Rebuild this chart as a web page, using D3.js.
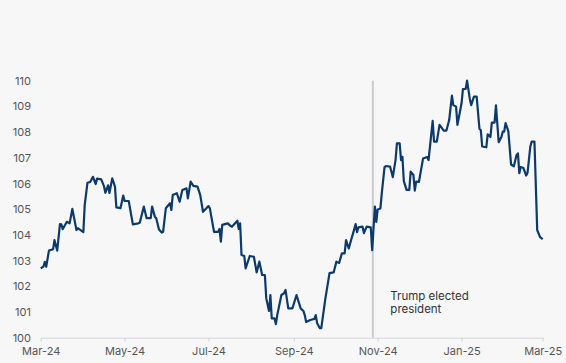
<!DOCTYPE html>
<html>
<head>
<meta charset="utf-8">
<script src="https://cdn.jsdelivr.net/npm/d3@7"></script>
<style>
  html, body { margin: 0; padding: 0; background: #f7f7f7; }
  svg { display: block; font-family: Inter, "Noto Sans", sans-serif; }
</style>
</head>
<body>
<div id="chart"></div>
<script>
// ---- data ----
const dates = [
"2024-03-01","2024-03-03","2024-03-04","2024-03-05","2024-03-07","2024-03-10","2024-03-11","2024-03-13","2024-03-15","2024-03-16",
"2024-03-17","2024-03-20","2024-03-22","2024-03-24","2024-03-27","2024-03-28","2024-04-01","2024-04-02","2024-04-04","2024-04-06",
"2024-04-08","2024-04-10","2024-04-11","2024-04-14","2024-04-16","2024-04-17","2024-04-19","2024-04-20","2024-04-22","2024-04-24",
"2024-04-25","2024-04-28","2024-04-30","2024-05-01","2024-05-04","2024-05-07","2024-05-11","2024-05-12","2024-05-15","2024-05-17",
"2024-05-20","2024-05-21","2024-05-23","2024-05-24","2024-05-26","2024-05-28","2024-05-29","2024-05-31","2024-06-03","2024-06-04",
"2024-06-05","2024-06-08","2024-06-10","2024-06-12","2024-06-15","2024-06-16","2024-06-18","2024-06-20","2024-06-23","2024-06-25",
"2024-06-27","2024-06-30","2024-07-01","2024-07-02","2024-07-05","2024-07-08","2024-07-09","2024-07-10","2024-07-11","2024-07-15",
"2024-07-17","2024-07-18","2024-07-22","2024-07-23","2024-07-24","2024-07-25","2024-07-27","2024-07-28","2024-07-31","2024-08-03",
"2024-08-05","2024-08-07","2024-08-09","2024-08-11","2024-08-12","2024-08-14","2024-08-15","2024-08-16","2024-08-18","2024-08-19",
"2024-08-20","2024-08-23","2024-08-25","2024-08-26","2024-08-28","2024-08-31","2024-09-03","2024-09-06","2024-09-08","2024-09-09",
"2024-09-10","2024-09-13","2024-09-16","2024-09-17","2024-09-18","2024-09-20","2024-09-21","2024-09-24","2024-09-27","2024-09-30",
"2024-10-02","2024-10-04","2024-10-06","2024-10-08","2024-10-09","2024-10-11","2024-10-13","2024-10-14","2024-10-16","2024-10-17",
"2024-10-18","2024-10-21","2024-10-22","2024-10-24","2024-10-27","2024-10-28","2024-10-30","2024-10-31","2024-11-01","2024-11-03",
"2024-11-04","2024-11-06","2024-11-07","2024-11-10","2024-11-12","2024-11-14","2024-11-15","2024-11-17","2024-11-18","2024-11-19",
"2024-11-20","2024-11-22","2024-11-24","2024-11-25","2024-11-27","2024-11-28","2024-11-29","2024-12-01","2024-12-04","2024-12-07",
"2024-12-08","2024-12-11","2024-12-12","2024-12-14","2024-12-16","2024-12-19","2024-12-21","2024-12-23","2024-12-25","2024-12-26",
"2024-12-28","2024-12-29","2025-01-01","2025-01-02","2025-01-04","2025-01-05","2025-01-07","2025-01-08","2025-01-10","2025-01-12",
"2025-01-14","2025-01-15","2025-01-16","2025-01-19","2025-01-20","2025-01-22","2025-01-23","2025-01-25","2025-01-26","2025-01-28",
"2025-01-30","2025-01-31","2025-02-01","2025-02-02","2025-02-04","2025-02-06","2025-02-08","2025-02-10","2025-02-11","2025-02-12",
"2025-02-13","2025-02-15","2025-02-17","2025-02-18","2025-02-20","2025-02-21","2025-02-23","2025-02-25","2025-02-27","2025-03-01"
];
const values = [
102.70,102.77,102.95,102.76,103.39,103.44,103.80,103.39,104.42,104.41,
104.22,104.51,104.45,105.01,104.19,104.26,104.11,105.16,106.03,106.06,
106.26,105.98,106.19,106.16,105.90,105.64,105.93,105.63,106.20,105.88,
105.07,105.04,105.53,105.32,105.32,104.41,104.45,104.47,105.10,104.65,
104.65,105.10,104.71,104.65,104.21,104.09,104.12,105.04,105.23,104.97,
105.55,105.62,105.29,105.75,105.81,105.42,106.07,105.91,105.88,105.55,
104.90,105.07,105.12,105.03,104.12,104.12,104.23,103.74,104.39,104.45,
104.35,104.32,104.55,104.23,104.45,103.22,103.18,102.70,103.18,103.15,
102.54,102.96,102.44,102.44,101.53,101.04,101.66,100.75,100.75,100.53,
100.88,101.66,101.73,101.86,101.14,101.14,101.66,101.14,101.04,100.88,
100.61,100.69,100.73,100.88,100.56,100.37,100.37,101.53,102.51,102.54,
102.96,102.91,103.28,103.28,103.80,103.47,103.86,104.04,104.42,104.11,
104.29,104.32,104.07,104.32,104.29,103.41,105.10,104.51,104.99,105.03,
105.62,106.64,106.68,106.66,106.25,106.91,107.56,107.56,106.91,107.04,
106.10,105.75,105.75,106.46,106.33,105.72,106.07,106.06,106.97,107.03,
106.91,108.44,107.63,107.63,108.28,108.06,108.06,108.47,109.42,109.05,
108.99,108.28,109.12,109.67,109.68,110.00,109.29,109.05,109.38,109.38,
108.13,108.08,107.44,107.41,107.91,107.81,108.37,108.37,109.04,107.61,
107.81,108.02,108.02,108.35,108.04,106.74,106.67,107.11,107.17,106.40,
106.64,106.60,106.31,106.43,107.44,107.63,107.63,104.19,103.92,103.83
];
const xTickDates = ["2024-03-01","2024-05-01","2024-07-01","2024-09-01","2024-11-01","2025-01-01","2025-03-01"];
const yTicks = [100,101,102,103,104,105,106,107,108,109,110];
const eventDate = "2024-10-28 12";
const eventLabel = ["Trump elected", "president"];

// ---- drawing ----
const W = 566, H = 363;
const parse = d3.timeParse("%Y-%m-%d");
const parseH = d3.timeParse("%Y-%m-%d %H");
const data = dates.map((d, i) => ({ date: parse(d), value: values[i] }));

const svg = d3.select("#chart").append("svg")
  .attr("width", W).attr("height", H);
svg.append("rect").attr("width", W).attr("height", H).attr("fill", "#f7f7f7");

const x = d3.scaleTime()
  .domain([parse(xTickDates[0]), parse(xTickDates[xTickDates.length - 1])])
  .range([40.7, 542.7]);
const y = d3.scaleLinear().domain([100, 110]).range([337.7, 80.7]);

// event line
const ex = x(parseH(eventDate));
svg.append("line")
  .attr("x1", ex).attr("x2", ex)
  .attr("y1", y(110)).attr("y2", y(100))
  .attr("stroke", "#c9cbce").attr("stroke-width", 2);

// x axis
const xAxis = d3.axisBottom(x)
  .tickValues(xTickDates.map(parse))
  .tickFormat(d3.timeFormat("%b-%y"))
  .tickSize(4).tickSizeOuter(0).tickPadding(6);
const gx = svg.append("g").attr("transform", `translate(0,${y(100)})`).call(xAxis);
gx.select(".domain").attr("stroke", "#d2d4d6");
gx.selectAll(".tick line").attr("stroke", "#d2d4d6");
gx.selectAll(".tick text").attr("fill", "#555").style("font-size", "11px")
  .style("font-family", "Inter, 'Noto Sans', sans-serif");

// y axis
const yAxis = d3.axisLeft(y).tickValues(yTicks).tickSize(0).tickPadding(3);
const gy = svg.append("g").attr("transform", "translate(34,0)").call(yAxis);
gy.select(".domain").remove();
gy.selectAll(".tick text").attr("fill", "#555").style("font-size", "11px")
  .style("font-family", "Inter, 'Noto Sans', sans-serif");

// line
const line = d3.line().x(d => x(d.date)).y(d => y(d.value));
svg.append("path").datum(data)
  .attr("fill", "none").attr("stroke", "#0c3a6d")
  .attr("stroke-width", 2.2).attr("stroke-linejoin", "round")
  .attr("d", line);

// annotation
const ann = svg.append("text")
  .attr("x", ex + 17.5).attr("y", 299.5)
  .attr("fill", "#333").style("font-size", "11.5px");
eventLabel.forEach((t, i) => {
  ann.append("tspan").attr("x", ex + 17.5).attr("dy", i === 0 ? 0 : 13.8).text(t);
});
</script>
</body>
</html>
